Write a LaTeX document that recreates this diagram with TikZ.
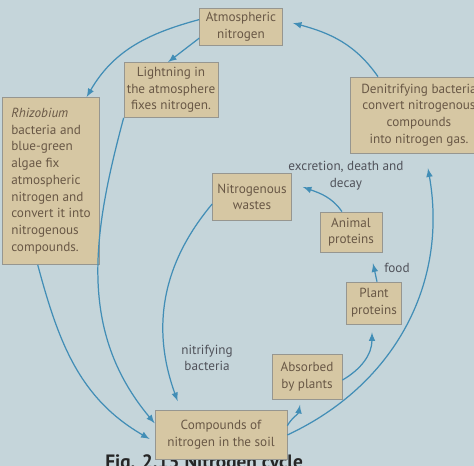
\documentclass[tikz,border=0pt]{standalone}
\usepackage{fontspec}
\setmainfont{PT Sans}
\usetikzlibrary{arrows,calc}
\definecolor{paper}{RGB}{197,213,218}
\definecolor{boxfill}{RGB}{214,199,163}
\definecolor{boxline}{RGB}{150,150,144}
\definecolor{boxtext}{RGB}{105,88,70}
\definecolor{lbltext}{RGB}{80,82,90}
\definecolor{flowblue}{RGB}{66,142,182}

\begin{document}
\begin{tikzpicture}[x=0.02cm,y=0.02cm,
    box/.style={draw=boxline, fill=boxfill, text=boxtext, align=center, inner sep=1pt,
        font=\fontsize{7.5}{9.5}\selectfont},
    lbl/.style={text=lbltext, align=center, inner sep=0pt, font=\fontsize{7.5}{9.5}\selectfont},
    flow/.style={-latex, line width=0.7pt, draw=flowblue}]

    \fill[paper] (0,0) rectangle (474,466);
    \useasboundingbox (0,0) rectangle (474,466);

    % caption, cut by the page edge
    \node[anchor=north west, inner sep=0pt, text=black!85, font=\bfseries\fontsize{11}{13}\selectfont] (fig) at (105,12) {Fig. 2.15 Nitrogen cycle};

    \node[box, minimum width=1.66cm, minimum height=0.74cm] (atm) at (241,439) {Atmospheric\\nitrogen};
    \node[box, minimum width=1.88cm, minimum height=1.10cm] (lig) at (171,376) {Lightning in\\the atmosphere\\fixes nitrogen.};
    \node[box, align=left, minimum width=1.94cm, minimum height=3.34cm] (rhiz) at (51,285) {\itshape Rhizobium\\bacteria and\\blue-green\\algae fix\\atmospheric\\nitrogen and\\convert it into\\nitrogenous\\compounds.};
    \node[box, minimum width=2.76cm, minimum height=1.52cm] (den) at (419,351) {Denitrifying bacteria\\convert nitrogenous\\compounds\\into nitrogen gas.};
    \node[box, minimum width=1.58cm, minimum height=0.94cm] (wst) at (252,269) {Nitrogenous\\wastes};
    \node[box, minimum width=1.24cm, minimum height=0.80cm] (ani) at (351,234) {Animal\\proteins};
    \node[box, minimum width=1.10cm, minimum height=0.84cm] (pla) at (374,163) {Plant\\proteins};
    \node[box, minimum width=1.40cm, minimum height=0.90cm] (abs) at (307,89) {Absorbed\\by plants};
    \node[box, minimum width=2.64cm, minimum height=0.98cm] (cmp) at (221,31) {Compounds of\\nitrogen in the soil};

    \node[lbl] (exc) at (346,290) {excretion, death and\\decay};
    \node[lbl] (food) at (397,198) {food};
    \node[lbl] (nitr) at (207,108) {nitrifying\\bacteria};

    \draw[flow] (atm.170) to[out=195, in=60] (rhiz.67);
    \draw[flow] (atm.195) -- ($(lig.north)+(-3,0)$);
    \draw[flow] (lig.south west) to[out=255, in=130] (cmp.170);
    \draw[flow] (rhiz.261) to[out=285, in=150] ($(cmp.west)+(-5,-4)$);
    \draw[flow] (wst.190) to[out=230, in=110] ($(cmp.north west)+(23,9)$);
    \draw[flow] (cmp.8) to[out=60, in=260] ($(abs.south)+(-7,-5)$);
    \draw[flow] (cmp.east) to[out=25, in=-80] ($(den.south)+(9,-15)$);
    \draw[flow] (abs.355) to[out=30, in=-90] ($(pla.south)+(-2,-8)$);
    \draw[flow] ($(pla.north)+(3,0)$) -- ($(ani.south)+(22,-11)$);
    \draw[flow] ($(ani.north)+(-9,0)$) to[out=125, in=-20] ($(wst.east)+(11,10)$);
    \draw[flow] ($(den.north)+(-41,0)$) to[out=125, in=-15] ($(atm.east)+(10,4)$);

\end{tikzpicture}
\end{document}
